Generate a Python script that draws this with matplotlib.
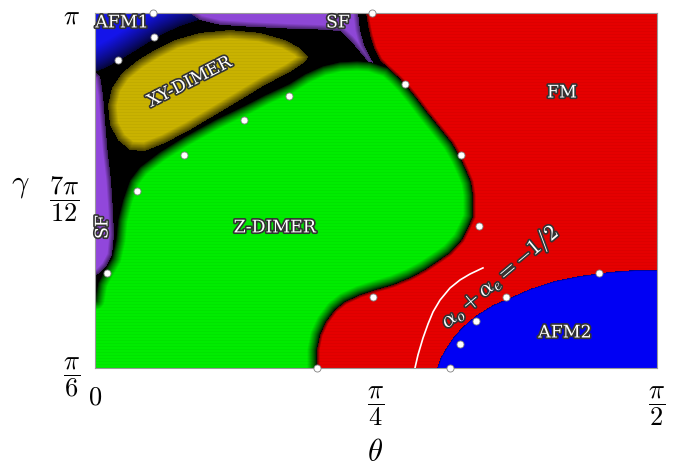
import numpy as np
import matplotlib
matplotlib.use("Agg")
import matplotlib.pyplot as plt
from matplotlib.path import Path
import matplotlib.patheffects as pe

plt.rcParams['mathtext.fontset'] = 'cm'

# ---- phase boundaries, (theta, gamma) in degrees ----
# FM edge facing the disordered / SF corner (top of the diagram)
fm_top_theta = [43.40, 43.72, 44.04, 44.68, 45.64]
fm_top_gamma = [180.0, 174.9, 170.7, 165.2, 160.1]

# shared Z-DIMER | FM boundary, top to bottom
zd_fm_theta = [46.92, 48.36, 49.64, 51.24, 53.17, 55.25, 57.17, 58.45, 59.41, 60.21,
               60.53, 60.53, 59.73, 58.77, 56.85, 54.77, 52.85, 50.44, 47.72, 44.84,
               42.44, 40.04, 38.43, 36.99, 36.03, 35.55, 35.55]
zd_fm_gamma = [156.8, 153.4, 150.0, 144.9, 138.2, 131.4, 125.1, 119.2, 113.7, 108.6,
               103.1, 93.8, 89.2, 84.1, 78.6, 74.8, 71.4, 68.0, 65.1, 62.9,
               60.8, 57.9, 54.5, 49.4, 43.9, 37.6, 30.0]

# Z-DIMER outer boundary, from the lower-left corner up to the FM junction
zd_theta = [0.0, 0.0, 0.48, 1.60, 2.72, 3.36, 3.68, 4.48, 5.60, 7.21, 10.41, 14.25,
            19.22, 23.86, 27.22, 31.07, 33.63, 36.51, 39.24, 41.96, 44.04]
zd_gamma = [30.0, 58.7, 65.9, 71.4, 76.5, 84.1, 92.5, 101.0, 109.4, 114.9, 121.3, 127.6,
            134.8, 140.7, 145.3, 150.0, 154.2, 157.6, 159.3, 159.7, 159.3]

# AFM2 boundary, from the bottom edge to the right edge
afm2_theta = [54.77, 55.41, 56.37, 57.33, 58.45, 59.73, 61.17, 63.73, 66.46, 69.66,
              73.67, 77.67, 82.47, 86.48, 90.0]
afm2_gamma = [30.0, 34.6, 38.9, 42.7, 46.1, 49.4, 52.4, 56.6, 59.6, 63.4,
              66.8, 68.9, 70.6, 71.4, 71.4]

# XY-DIMER island
xy_theta = [2.08, 2.72, 4.32, 6.89, 9.61, 12.81, 16.81, 21.62, 26.42, 30.43, 32.83, 34.11,
            33.63, 31.23, 27.22, 23.22, 19.22, 15.21, 11.21, 8.01, 5.60, 3.68, 2.40]
xy_gamma = [141.1, 148.3, 154.6, 160.1, 164.4, 168.6, 171.6, 172.8, 171.6, 168.6, 165.2, 161.4,
            159.3, 155.1, 149.6, 143.2, 136.9, 130.6, 125.1, 121.7, 122.1, 126.3, 132.7]

# AFM1 corner
afm1_theta = [0.0, 17.5, 16.5, 13.61, 11.21, 8.81, 6.41, 4.00, 1.60, 0.0]
afm1_gamma = [180.0, 180.0, 177.0, 174.4, 171.6, 168.0, 164.0, 160.1, 156.8, 155.1]

# SF strip along the top
sf_top_theta = [15.21, 42.12, 42.44, 43.08, 44.04, 44.68, 44.04, 42.44, 40.84, 39.24,
                36.03, 31.23, 24.82, 20.02, 16.81]
sf_top_gamma = [180.0, 180.0, 172.8, 166.5, 161.4, 158.5, 158.5, 163.5, 168.6, 172.4,
                173.0, 173.4, 174.2, 175.0, 177.0]

# SF strip along the left edge
sf_left_theta = [0.0, 0.80, 1.28, 1.60, 2.00, 2.56, 2.88, 3.04, 2.72, 1.80, 0.70, 0.0]
sf_left_gamma = [155.1, 153.4, 145.4, 134.8, 122.1, 109.4, 96.8, 86.2, 77.7, 73.1, 70.1, 68.9]

# alpha_o + alpha_e = -1/2 curve
curve_theta = [51.24, 51.72, 52.53, 53.33, 54.13, 55.25, 56.85, 58.45, 60.05, 62.13]
curve_gamma = [30.0, 35.5, 42.7, 48.6, 53.7, 58.7, 63.8, 67.2, 69.7, 72.3]

# sampled points
pt_theta = [9.29, 9.45, 3.68, 31.07, 23.86, 14.25, 6.73, 1.92, 35.55, 44.52,
            44.36, 49.64, 58.61, 61.49, 65.82, 61.01, 58.45, 56.85, 80.71]
pt_gamma = [180, 170, 160, 145, 135, 120, 105, 70, 30, 60,
            180, 150, 120, 90, 60, 50, 40, 30, 70]

# ---- figure ----
fig = plt.figure(figsize=(6.79, 4.66), dpi=100)
ax = fig.add_axes([95 / 679, 98 / 466, 562 / 679, 355 / 466])
fig.canvas.draw()
bb = ax.get_window_extent()
W, H = bb.width, bb.height
nx, ny = int(round(W)), int(round(H))

tx = (np.arange(nx) + 0.5) / nx * 90.0
gy = 30.0 + (np.arange(ny) + 0.5) / ny * 150.0
TT, GG = np.meshgrid(tx, gy)
P = np.column_stack([TT.ravel() * W / 90.0, (GG.ravel() - 30.0) * H / 150.0])


def to_px(th, ga):
    return np.column_stack([np.asarray(th) * W / 90.0, (np.asarray(ga) - 30.0) * H / 150.0])


def edge_distance(poly, pts):
    d = np.full(len(pts), np.inf)
    n = len(poly)
    for i in range(n):
        a, b = poly[i], poly[(i + 1) % n]
        frame = False
        for k, lim in ((0, 0.0), (0, W), (1, 0.0), (1, H)):
            if abs(a[k] - lim) < 1e-6 and abs(b[k] - lim) < 1e-6:
                frame = True
        if frame:
            continue
        ab = b - a
        t = np.clip(((pts - a) @ ab) / (ab @ ab), 0, 1)
        proj = a + t[:, None] * ab
        d = np.minimum(d, np.hypot(pts[:, 0] - proj[:, 0], pts[:, 1] - proj[:, 1]))
    return d


img = np.zeros((ny * nx, 3))
rows = np.repeat(np.arange(ny), nx)
stripe = 1.0 - 0.05 * (0.5 + 0.5 * np.cos(2 * np.pi * rows / 3.0))

phases = [
    # polygon, colour, fringe width (px), floor, exponent, striped
    (to_px(afm1_theta, afm1_gamma), (0.08, 0.08, 0.92), 24, 0.22, 0.8, False),
    (to_px(sf_top_theta, sf_top_gamma), (0.56, 0.28, 0.84), 5, 0.50, 1.0, False),
    (to_px(sf_left_theta, sf_left_gamma), (0.57, 0.28, 0.86), 5, 0.40, 1.0, False),
    (to_px(xy_theta, xy_gamma), (0.80, 0.71, 0.0), 9, 0.35, 1.0, True),
    (to_px(zd_theta + zd_fm_theta, zd_gamma + zd_fm_gamma), (0.0, 0.94, 0.0), 10, 0.0, 0.75, True),
    (to_px(fm_top_theta + zd_fm_theta + [90.0, 90.0], fm_top_gamma + zd_fm_gamma + [30.0, 180.0]),
     (0.91, 0.0, 0.0), 3, 0.35, 1.0, True),
    (to_px(afm2_theta + [90.0], afm2_gamma + [30.0]), (0.0, 0.0, 0.96), 1.5, 0.5, 1.0, False),
]

for poly, col, w, floor, ex, striped in phases:
    inside = Path(poly).contains_points(P)
    d = edge_distance(poly, P[inside])
    s = floor + (1 - floor) * np.clip(d / w, 0, 1) ** ex
    if striped:
        s = s * stripe[inside]
    img[inside] = s[:, None] * np.array(col)[None, :]

img = img.reshape(ny, nx, 3)
deg = np.pi / 180.0
ax.imshow(img, origin='lower', extent=[0, np.pi / 2, np.pi / 6, np.pi],
          aspect='auto', interpolation='nearest', zorder=1)

ax.plot(np.array(curve_theta) * deg, np.array(curve_gamma) * deg, color='white', lw=1.2, zorder=3)
ax.scatter(np.array(pt_theta) * deg, np.array(pt_gamma) * deg, s=26, c='white',
           edgecolors='#808080', linewidths=0.6, zorder=6, clip_on=False)

ax.set_xlim(0, np.pi / 2)
ax.set_ylim(np.pi / 6, np.pi)

stroke = [pe.withStroke(linewidth=2.4, foreground='#333333')]
lab = dict(color='white', fontsize=12.5, family='DejaVu Serif', ha='center', va='center',
           path_effects=stroke, zorder=7)
ax.text(4.32 * deg, 175.8 * deg, 'AFM1', **lab)
ax.text(38.92 * deg, 175.8 * deg, 'SF', **lab)
ax.text(15.21 * deg, 150.8 * deg, 'XY-DIMER', rotation=27, rotation_mode='anchor', **lab)
ax.text(74.79 * deg, 146.2 * deg, 'FM', **lab)
ax.text(28.83 * deg, 89.2 * deg, 'Z-DIMER', **lab)
ax.text(1.28 * deg, 89.6 * deg, 'SF', rotation=90, rotation_mode='anchor', **lab)
ax.text(75.27 * deg, 44.8 * deg, 'AFM2', **lab)
ax.text(64.86 * deg, 68.4 * deg, r'$\alpha_o+\alpha_e=-1/2$', rotation=40, rotation_mode='anchor',
        color='white', fontsize=16, ha='center', va='center', path_effects=stroke, zorder=7)

ax.set_xticks([0, np.pi / 4, np.pi / 2])
ax.set_xticklabels([r'$0$', r'$\dfrac{\pi}{4}$', r'$\dfrac{\pi}{2}$'], fontsize=19)
ax.set_yticks([np.pi / 6, 7 * np.pi / 12, np.pi])
ax.set_yticklabels([r'$\dfrac{\pi}{6}$', r'$\dfrac{7\pi}{12}$', r'$\pi$'], fontsize=19)
ax.tick_params(axis='both', length=0)
ax.tick_params(axis='x', pad=12)
ax.tick_params(axis='y', pad=11)

ax.set_xlabel(r'$\theta$', fontsize=22)
ax.xaxis.set_label_coords(0.498, -0.237)
ax.xaxis.label.set_va('center')
ax.set_ylabel(r'$\gamma$', fontsize=22, rotation=0)
ax.yaxis.set_label_coords(-0.133, 0.515)
ax.yaxis.label.set_va('center')
ax.yaxis.label.set_ha('center')

for sp in ax.spines.values():
    sp.set_color('#9a9a9a')
    sp.set_linewidth(0.8)

fig.savefig('out.png', dpi=100)
